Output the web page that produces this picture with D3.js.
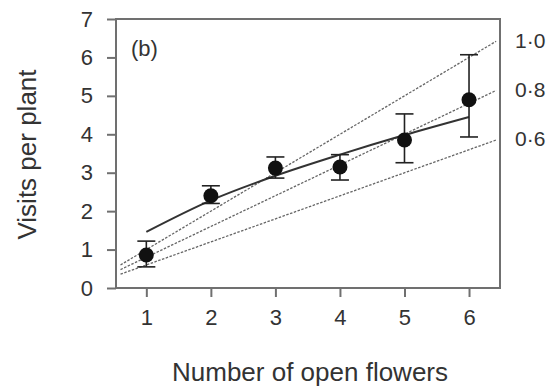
<!DOCTYPE html>
<html>
<head>
<meta charset="utf-8">
<script src="https://cdn.jsdelivr.net/npm/d3@7"></script>
<style>
  body { margin: 0; background: #fff; }
  text { font-family: "Liberation Sans", Arial, sans-serif; fill: #333; }
</style>
</head>
<body>
<div id="chart"></div>
<script>
// Chart size matches the reference window
let w = 555;
let h = 387;

// Data
const flowers = [1, 2, 3, 4, 5, 6];
const visits = [0.86, 2.40, 3.12, 3.15, 3.85, 4.90];
const errUpper = [1.22, 2.66, 3.41, 3.47, 4.53, 6.07];
const errLower = [0.55, 2.20, 2.86, 2.81, 3.26, 3.93];
// Fitted curve (solid line)
const fitValues = [1.46, 2.28, 2.92, 3.47, 3.98, 4.45];
// Reference lines (dashed), labelled on the right
const refLabels = ["1·0", "0·8", "0·6"];
const refX = [0.6, 6.42];
const refStartY = [0.6, 0.48, 0.36];
const refEndY = [6.42, 5.14, 3.85];
const yTicks = [0, 1, 2, 3, 4, 5, 6, 7];

// Plot frame
let padLeft = 116, padRight = 500, padTop = 19, padBottom = 288;

let xScale = d3.scaleLinear().domain([0.53, 6.48]).range([padLeft, padRight]);
let yScale = d3.scaleLinear().domain([0, 7]).range([padBottom, padTop]);

let svg = d3.select("#chart").append("svg")
  .attr("width", w)
  .attr("height", h);

// Axes with outward ticks, integer labels
let xAxis = svg.append("g")
  .attr("transform", "translate(0," + padBottom + ")")
  .call(d3.axisBottom(xScale).tickValues(flowers).tickFormat(d3.format("d"))
    .tickSize(9).tickPadding(12).tickSizeOuter(0));
let yAxis = svg.append("g")
  .attr("transform", "translate(" + padLeft + ",0)")
  .call(d3.axisLeft(yScale).tickValues(yTicks).tickFormat(d3.format("d"))
    .tickSize(9).tickPadding(14).tickSizeOuter(0));

[xAxis, yAxis].forEach(function(a) {
  a.select(".domain").remove();
  a.selectAll(".tick line").attr("stroke", "#707070").attr("stroke-width", 2);
  a.selectAll(".tick text")
    .attr("font-size", "22px")
    .attr("font-family", "Liberation Sans, Arial, sans-serif")
    .attr("fill", "#333");
});

// Frame box
svg.append("rect")
  .attr("x", padLeft)
  .attr("y", padTop)
  .attr("width", padRight - padLeft)
  .attr("height", padBottom - padTop)
  .attr("fill", "none")
  .attr("stroke", "#707070")
  .attr("stroke-width", 2);

// Dashed reference lines with their labels outside the frame
refLabels.forEach(function(lab, i) {
  svg.append("line")
    .attr("x1", xScale(refX[0]))
    .attr("y1", yScale(refStartY[i]))
    .attr("x2", xScale(refX[1]))
    .attr("y2", yScale(refEndY[i]))
    .attr("stroke", "#666")
    .attr("stroke-width", 1.3)
    .attr("stroke-dasharray", "2.5,1.5");
  svg.append("text")
    .attr("x", 515)
    .attr("y", yScale(refEndY[i]))
    .attr("dy", "0.3em")
    .attr("font-size", "21px")
    .text(lab);
});

// Fitted solid curve
let fitLine = d3.line()
  .x(function(d, i) { return xScale(flowers[i]); })
  .y(function(d) { return yScale(d); })
  .curve(d3.curveMonotoneX);
svg.append("path")
  .datum(fitValues)
  .attr("d", fitLine)
  .attr("fill", "none")
  .attr("stroke", "#333")
  .attr("stroke-width", 2);

// Error bars
let capHalf = 9;
let bars = svg.append("g").attr("stroke", "#222").attr("stroke-width", 1.6);
flowers.forEach(function(f, i) {
  let x = xScale(f);
  bars.append("line")
    .attr("x1", x).attr("x2", x)
    .attr("y1", yScale(errUpper[i])).attr("y2", yScale(errLower[i]));
  bars.append("line")
    .attr("x1", x - capHalf).attr("x2", x + capHalf)
    .attr("y1", yScale(errUpper[i])).attr("y2", yScale(errUpper[i]));
  bars.append("line")
    .attr("x1", x - capHalf).attr("x2", x + capHalf)
    .attr("y1", yScale(errLower[i])).attr("y2", yScale(errLower[i]));
});

// Mean points
svg.selectAll("circle.pt")
  .data(visits)
  .enter()
  .append("circle")
  .attr("class", "pt")
  .attr("cx", function(d, i) { return xScale(flowers[i]); })
  .attr("cy", function(d) { return yScale(d); })
  .attr("r", 7.5)
  .attr("fill", "#111");

// Panel label
svg.append("text")
  .attr("x", 131)
  .attr("y", 56)
  .attr("font-size", "22px")
  .text("(b)");

// Axis titles
svg.append("text")
  .attr("x", (168 + 452) / 2)
  .attr("y", 381)
  .attr("text-anchor", "middle")
  .attr("font-size", "26px")
  .text("Number of open flowers");
svg.append("text")
  .attr("transform", "translate(36," + ((padTop + padBottom) / 2 + 1) + ") rotate(-90)")
  .attr("text-anchor", "middle")
  .attr("font-size", "26px")
  .text("Visits per plant");
</script>
</body>
</html>
